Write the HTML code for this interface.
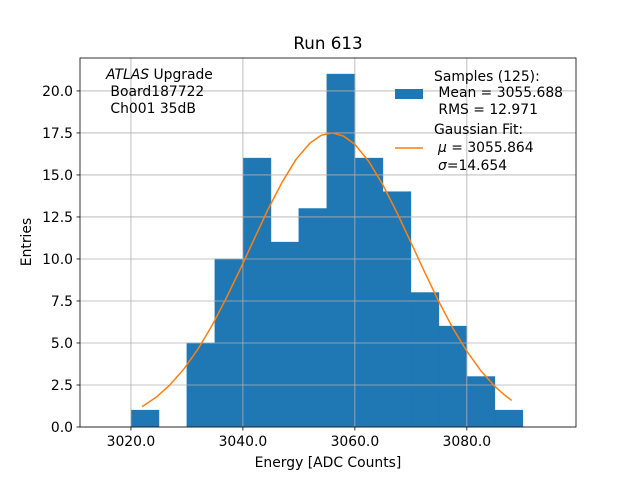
<!DOCTYPE html>
<html><head><meta charset="utf-8"><style>
body{margin:0;background:#fff}
svg text{font-family:"DejaVu Sans","Liberation Sans",sans-serif;fill:#000}
</style></head><body>
<svg id="chart" width="640" height="480" xmlns="http://www.w3.org/2000/svg">
<rect width="640" height="480" fill="#fff"/>
<g id="bars"></g>
<g id="grid"></g>
<g id="fit"></g>
<rect x="80" y="58" width="496" height="369" fill="none" stroke="#000" stroke-width="0.8"/>
<g id="xticks"></g>
<g id="yticks"></g>
<text x="328" y="49" font-size="16.7" text-anchor="middle">Run 613</text>
<text x="328" y="467" font-size="13.9" text-anchor="middle">Energy [ADC Counts]</text>
<text transform="translate(31,242) rotate(-90)" font-size="13.9" text-anchor="middle">Entries</text>
<g font-size="13.9">
<text x="106" y="79"><tspan font-style="italic">ATLAS</tspan> Upgrade</text>
<text x="106" y="96" xml:space="preserve"> Board187722</text>
<text x="106" y="113" xml:space="preserve"> Ch001 35dB</text>
</g>
<g font-size="13.9">
<rect x="395" y="89" width="28" height="10" fill="#1f77b4"/>
<text x="434" y="81">Samples (125):</text>
<text x="434" y="97" xml:space="preserve"> Mean = 3055.688</text>
<text x="434" y="114" xml:space="preserve"> RMS = 12.971</text>
<line x1="395" x2="423" y1="148" y2="148" stroke="#ff7f0e" stroke-width="1.5"/>
<text x="434" y="134">Gaussian Fit:</text>
<text x="438" y="152"><tspan font-style="italic">μ</tspan> = 3055.864</text>
<text x="438" y="170"><tspan font-style="italic">σ</tspan>=14.654</text>
</g>
</svg>
<script>
const binEdgesStart=[3020,3025,3030,3035,3040,3045,3050,3055,3060,3065,3070,3075,3080,3085];
const binWidth=5;
const counts=[1,0,5,10,16,11,13,21,16,14,8,6,3,1];
const fitX=[3022,3024.5,3027,3029.5,3032,3034.5,3037,3039.5,3042,3044.5,3047,3049.5,3052,3054,3056,3058,3060,3062.5,3065,3067.5,3070,3072.5,3075,3077.5,3080,3082.5,3085,3086.5,3088];
const fitY=[1.21,1.77,2.52,3.47,4.65,6.05,7.65,9.38,11.18,12.96,14.57,15.93,16.90,17.36,17.5,17.31,16.82,15.80,14.41,12.77,10.99,9.19,7.46,5.88,4.51,3.35,2.42,1.97,1.58];
const xTicks=[3020,3040,3060,3080];
const yTicks=[0,2.5,5,7.5,10,12.5,15,17.5,20];
const NS="http://www.w3.org/2000/svg";
const X0=80,X1=576,Y0=427,Y1=58,xMin=3010.9,xMax=3099.5,yMin=0,yMax=21.96;
const sx=v=>X0+(v-xMin)/(xMax-xMin)*(X1-X0);
const sy=v=>Y0-(v-yMin)/(yMax-yMin)*(Y0-Y1);
function mk(tag,attrs,parent){const e=document.createElementNS(NS,tag);for(const k in attrs)e.setAttribute(k,attrs[k]);parent.appendChild(e);return e;}
const bars=document.getElementById('bars');
counts.forEach((c,i)=>{if(c<=0)return;
const r=mk('rect',{x:sx(binEdgesStart[i]),y:sy(c),width:sx(binEdgesStart[i]+binWidth)-sx(binEdgesStart[i]),height:sy(0)-sy(c),fill:'#1f77b4',stroke:'#1f77b4','stroke-width':0.6},bars);

});
const grid=document.getElementById('grid'),xt=document.getElementById('xticks'),yt=document.getElementById('yticks');
xTicks.forEach(t=>{const x=sx(t);
const g=mk('line',{x1:x,x2:x,y1:Y1,y2:Y0,stroke:'#b0b0b0','stroke-width':0.8},grid);

mk('line',{x1:x,x2:x,y1:Y0,y2:Y0+3.5,stroke:'#000','stroke-width':0.8},xt);
const tx=mk('text',{x:x,y:Y0+19,'font-size':13.9,'text-anchor':'middle'},xt);tx.textContent=t.toFixed(1);
});
yTicks.forEach(t=>{const y=sy(t);
const g=mk('line',{x1:X0,x2:X1,y1:y,y2:y,stroke:'#b0b0b0','stroke-width':0.8},grid);

mk('line',{x1:X0-3.5,x2:X0,y1:y,y2:y,stroke:'#000','stroke-width':0.8},yt);
const tx=mk('text',{x:X0-7,y:y+5,'font-size':13.9,'text-anchor':'end'},yt);tx.textContent=t.toFixed(1);
});
const fit=document.getElementById('fit');
const p=mk('polyline',{points:fitX.map((x,i)=>sx(x)+','+sy(fitY[i])).join(' '),fill:'none',stroke:'#ff7f0e','stroke-width':1.5,'stroke-linejoin':'round'},fit);


</script>
</body></html>
